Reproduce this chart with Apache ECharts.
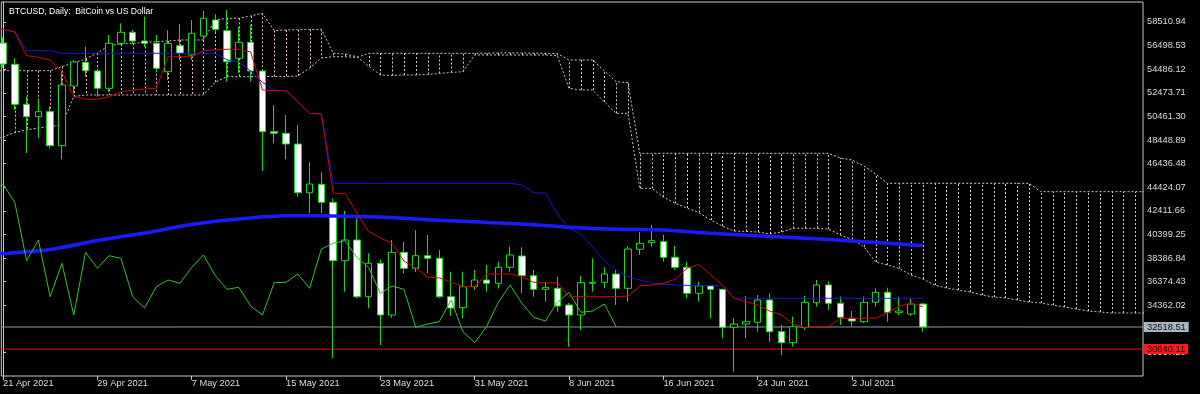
<!DOCTYPE html>
<html>
<head>
<meta charset="utf-8">
<script src="https://cdn.jsdelivr.net/npm/echarts@6/dist/echarts.min.js"></script>
<style>
html,body{margin:0;padding:0;background:#000;}
#chart{width:1200px;height:394px;}
</style>
</head>
<body>
<div id="chart"></div>
<script>
// ---- Data ----
const title = 'BTCUSD, Daily:  BitCoin vs US Dollar';
const xTickIdx = [0, 8, 16, 24, 32, 40, 48, 56, 64, 72];
const xTickLabels = ['21 Apr 2021','29 Apr 2021','7 May 2021','15 May 2021','23 May 2021','31 May 2021','8 Jun 2021','16 Jun 2021','24 Jun 2021','2 Jul 2021'];
const yTicks = [30337.20, 34362.02, 36374.43, 38386.84, 40399.25, 42411.66, 44424.07, 46436.48, 48448.89, 50461.30, 52473.71, 54486.12, 56498.53, 58510.94];
const bidPrice = 32518.51;
const redLevel = 30640.11;

// daily candles, 21 Apr 2021 .. 8 Jul 2021 (index 0..78)
const open = [56715,54900,51492,50436,50862,47965,53052,55071,54330,52856,56690,57627,56886,56690,54270,56485,55693,57311,58675,57763,55411,56775,54330,49158,49021,48110,43961,44676,43143,38167,39931,35100,37946,33541,38883,37520,38593,38372,35100,34163,35952,36523,36242,37605,38568,36889,35730,35816,34393,33541,36242,36327,37034,35816,39138,39701,39786,38457,37605,35389,36012,35730,32493,32774,32919,34819,32118,31181,32493,34589,36097,34538,33260,32970,34623,35475,33737,33626,34478];
const close = [54926,51492,50436,50862,47965,53137,55096,54356,52856,56690,57627,56886,56690,54560,56690,55838,57542,58820,57883,55122,56775,54330,49158,49021,48110,43961,44702,43143,38167,39931,35100,37946,33541,38883,37520,38593,38372,35100,34137,35952,36523,36242,37605,38653,36889,35730,35900,34308,33541,36293,36327,37034,35816,39164,39650,39871,38457,37605,35389,36012,35730,32493,32774,32970,34819,32118,31181,32544,34623,36097,34538,33345,33030,34623,35475,33771,33882,34478,32518.51];
const low = [54600,51007,47343,48596,47744,46807,52430,53844,52140,52567,56545,56630,56374,54245,53563,55267,55267,56970,57652,53418,54159,53418,45810,48170,46807,43620,42206,42206,29852,35526,34964,34112,30985,33285,37094,37204,37094,34990,33456,33260,35671,35526,35816,37230,35389,35100,34674,33822,30840,32263,35526,35816,34393,34674,38653,39360,38082,37375,34964,34674,33260,31556,28710,31556,32118,31266,30133,30840,32263,34248,33967,32689,32544,32859,34248,32970,33541,33456,32118];
const high = [57200,55411,52140,51859,51288,54270,55266,56400,54560,57397,58394,57823,58956,57397,57823,58334,58675,59441,59186,59527,58078,58249,54415,51433,50581,49729,46551,45699,43484,42402,41780,38798,38287,39931,39786,40783,40357,39079,37230,37230,37375,37801,38082,39360,39309,37375,36378,36804,34563,36864,38372,37605,37375,39360,40587,41209,40357,39420,38082,36378,36097,35756,33260,35160,35245,35390,32689,33396,35185,36523,36378,35100,33882,35100,35816,35867,35100,34904,34563];

// Ichimoku lines, index -1 .. 78
const tenkan = [57882,57882,57653,55633,55497,55267,54270,52140,51918,51918,52140,52566,52711,52796,52856,55548,55548,55548,56059,56119,56179,56179,55949,52711,52651,52651,51714,50726,50666,43910,43910,42232,40655,40101,39650,38141,37545,36778,36693,36352,35952,35952,37034,37034,37034,36821,36327,36293,36293,35100,35100,35100,35100,35100,35160,36012,36097,36242,36582,37520,37844,36974,36097,34964,34674,34393,33882,33541,32774,32476,32544,32561,33260,33260,33260,33285,33711,34308,34538,34249];
const kijun = [57882,57882,57678,56059,56059,56059,55838,55838,55838,55838,55838,55838,55838,55838,55838,55838,55838,55838,55838,55838,55267,55122,54330,53367,52711,52651,51714,50726,50666,44762,44762,44762,44762,44762,44762,44762,44762,44762,44762,44762,44762,44762,44762,44762,44762,44617,43961,43910,42146,40928,40443,39361,38141,37375,36804,36523,36293,36157,36097,36071,36037,36054,36012,34964,34964,34964,34964,34964,34964,34964,34964,34964,34964,34964,34964,34964,34964,34964,34964,34964];
// Chikou span, index -1 .. 52
const chikou = [43961,44702,43143,38167,39931,35100,37946,33541,38883,37520,38593,38372,35100,34137,35952,36523,36242,37605,38653,36889,35730,35900,34308,33541,36293,36327,37034,35816,39164,39650,39871,38457,37605,35389,36012,35730,32493,32774,32970,34819,32118,31181,32544,34623,36097,34538,33345,33030,34623,35475,33771,33882,34478,32518.51];
// Senkou spans (cloud edges), index -1 .. 97
const senkouA = [54355,54355,54355,54355,54355,54355,54713,55011,55352,55863,56502,56630,56690,56758,56826,56886,56971,56971,56971,58675,58820,58820,59016,59246,57780,57823,57849,57866,57883,55838,55778,
 55548,54756,53989,53946,53989,53989,54032,54117,54202,54270,55693,55693,55693,55693,55693,55693,55693,55650,52856,52711,52711,51689,50726,50726,44336,44336,43595,43058,42657,42274,41635,41124,40693,40656,40613,40443,40613,40928,40928,40928,40868,40357,39974,39361,38057,37801,37503,36949,36608,36097,35841,35671,35501,35245,35075,34990,34819,34649,34564,34393,34223,34053,33882,33797,33712,33712,33712,33712];
const senkouB = [48451,48706,49090,49303,49473,49601,49729,52157,52285,52285,52285,52285,52285,52285,52285,52285,52285,52285,52285,53392,53844,53844,53844,53861,53861,53861,53904,54585,55437,55548,55548,
 55480,55838,55838,55838,55838,55838,55838,55838,55838,55838,55838,55846,55863,55880,55863,55846,55838,55821,55267,55267,55267,54330,53418,53333,47318,47318,47318,47318,47318,47318,47318,47318,47318,47318,47318,47318,47318,47318,47318,47318,47318,46917,46747,46236,45554,44762,44762,44762,44762,44762,44762,44762,44762,44762,44762,44762,44762,44762,44046,44046,44046,44046,44046,44046,44046,44046,44046,44046];
// Moving average (thick blue), read at selected bars
const maIdx = [-1,0,4,8,12,16,20,24,28,32,36,40,44,48,52,56,60,64,68,72,76,78];
const maVal = [38695,38780,39121,39888,40527,41252,41720,41993,41976,41891,41661,41481,41294,41022,40851,40783,40510,40289,40084,39846,39590,39462];

// ---- Chart ----
const FONT = 'Liberation Sans';
const SANDY = '#e2bc9c', THISTLE = '#d6c6d6';
const X_MIN = -0.144, X_MAX = 96.67;
const pairs = (arr, start) => arr.map((v, k) => [k + start, v]);
const candles = open.map((o, i) => [i, o, close[i], low[i], high[i]]);
const cloud = senkouA.map((a, k) => [k - 1, a, senkouB[k]]);

function levelSeries(name, value, lineColor, boxColor, textColor) {
  return [
    {type: 'line', name: name, data: [[X_MIN, value], [X_MAX, value]], z: 1, showSymbol: false, silent: true,
      lineStyle: {color: lineColor, width: 1}},
    {type: 'line', name: name + ' label', data: [], z: 4, clip: false, silent: true,
      markLine: {
        silent: true, symbol: 'none', animation: false,
        lineStyle: {color: 'rgba(0,0,0,0)', width: 1, type: 'solid'},
        label: {show: true, position: 'end', distance: 1, formatter: p => p.value.toFixed(2),
          backgroundColor: boxColor, color: textColor, padding: [1, 3, 0, 3], fontSize: 9.3, fontFamily: FONT},
        data: [{yAxis: value}]
      }}
  ];
}

const chart = echarts.init(document.getElementById('chart'), null, {renderer: 'canvas'});
chart.setOption({
  backgroundColor: '#000000',
  animation: false,
  title: {text: title, left: 4, top: 2, textStyle: {color: '#ffffff', fontSize: 8.6, fontWeight: 'normal', fontFamily: FONT}},
  grid: {left: 1, right: 57, top: 2, bottom: 18, show: true, borderColor: '#c8c8c8', borderWidth: 1, backgroundColor: '#000000'},
  xAxis: {
    type: 'value', min: X_MIN, max: X_MAX,
    axisLine: {show: false}, splitLine: {show: false},
    axisTick: {show: true, customValues: xTickIdx, length: 4, lineStyle: {color: '#c8c8c8'}},
    axisLabel: {customValues: xTickIdx, formatter: v => xTickLabels[xTickIdx.indexOf(Math.round(v))] || '', align: 'left', margin: 3, color: '#dcdcdc', fontSize: 9.3, fontFamily: FONT}
  },
  yAxis: {
    type: 'value', position: 'right', min: 28343.7, max: 60208.5,
    axisLine: {show: true, lineStyle: {color: '#c8c8c8'}}, splitLine: {show: false},
    axisTick: {show: true, customValues: yTicks, length: 3, lineStyle: {color: '#c8c8c8'}},
    axisLabel: {customValues: yTicks, formatter: v => v.toFixed(2), margin: 4, color: '#dcdcdc', fontSize: 9.3, fontFamily: FONT}
  },
  series: [
    {
      type: 'custom', name: 'cloud', data: cloud, z: 1, silent: true,
      renderItem: (params, api) => {
        const i = api.value(0), a = api.value(1), b = api.value(2);
        const p1 = api.coord([i, a]), p2 = api.coord([i, b]);
        if (p1[0] < 1 || p1[0] > 1142) return null;
        const x = Math.round(p1[0]) + 0.5;
        return {type: 'line', shape: {x1: x, y1: p1[1], x2: x, y2: p2[1]},
          style: {stroke: a >= b ? SANDY : THISTLE, lineWidth: 1, lineDash: [2, 2]}};
      }
    },
    {type: 'line', name: 'Senkou A', data: pairs(senkouA, -1), z: 1, showSymbol: false, silent: true,
      lineStyle: {color: SANDY, width: 1, type: [2, 2]}},
    {type: 'line', name: 'Senkou B', data: pairs(senkouB, -1), z: 1, showSymbol: false, silent: true,
      lineStyle: {color: THISTLE, width: 1, type: [2, 2]}},
    ...levelSeries('bid', bidPrice, '#8a98a8', '#a8b4c2', '#101010'),
    ...levelSeries('level', redLevel, '#ee1111', '#ff1a1a', '#200000'),
    {type: 'candlestick', name: 'BTCUSD', data: candles, z: 2, barWidth: 7, silent: true,
      itemStyle: {color: '#000000', color0: '#ffffff', borderColor: '#12e012', borderColor0: '#12e012', borderWidth: 1}},
    {type: 'line', name: 'MA', data: maIdx.map((i, k) => [i, maVal[k]]), z: 3, showSymbol: false, silent: true, smooth: 0.3,
      lineStyle: {color: '#1a1aff', width: 3.5}},
    {type: 'line', name: 'Chikou', data: pairs(chikou, -1), z: 3, showSymbol: false, silent: true,
      lineStyle: {color: '#2ec42e', width: 1}},
    {type: 'line', name: 'Kijun', data: pairs(kijun, -1), z: 3, showSymbol: false, silent: true,
      lineStyle: {color: '#1616d8', width: 1}},
    {type: 'line', name: 'Tenkan', data: pairs(tenkan, -1), z: 3, showSymbol: false, silent: true,
      lineStyle: {color: '#d80000', width: 1}}
  ]
});
</script>
</body>
</html>
